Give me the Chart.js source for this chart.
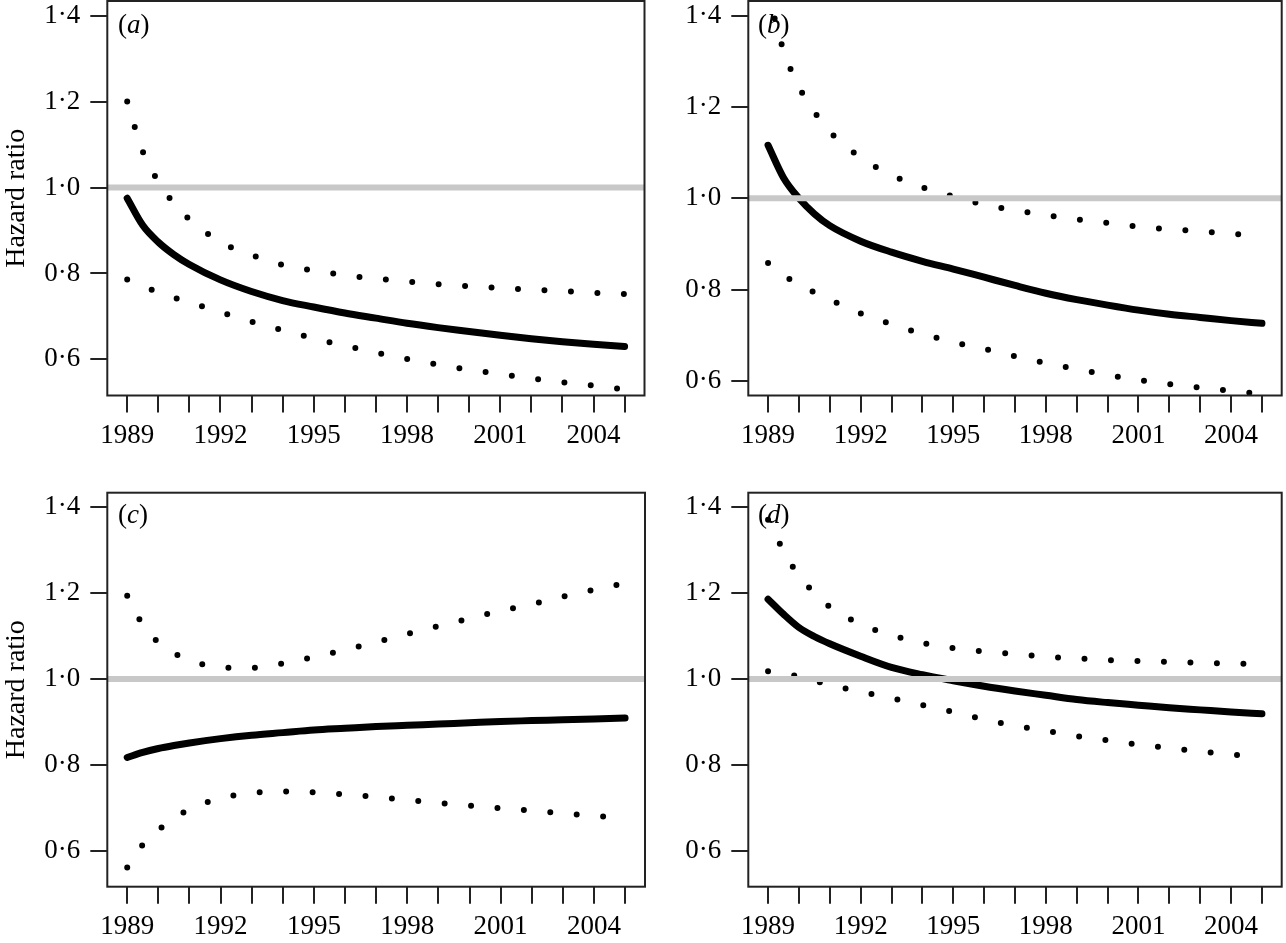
<!DOCTYPE html>
<html>
<head>
<meta charset="utf-8">
<script src="https://cdn.jsdelivr.net/npm/chart.js@4.4.0/dist/chart.umd.min.js"></script>
<style>
  body { margin: 0; background: #fff; }
  #wrap { position: relative; width: 1286px; height: 943px; background: #fff; overflow: hidden; }
  canvas { position: absolute; }
  .tag { position: absolute; font: 27px "Liberation Serif", serif; line-height: 1; color: #000; }
</style>
</head>
<body>
<div id="wrap">
  <canvas id="chartA" width="660" height="470" style="left:0px;top:0px"></canvas>
  <canvas id="chartB" width="626" height="470" style="left:660px;top:0px"></canvas>
  <canvas id="chartC" width="660" height="473" style="left:0px;top:470px"></canvas>
  <canvas id="chartD" width="626" height="473" style="left:660px;top:470px"></canvas>
  <div class="tag" style="left:118px;top:11px">(<i>a</i>)</div>
  <div class="tag" style="left:758px;top:11px">(<i>b</i>)</div>
  <div class="tag" style="left:118px;top:501px">(<i>c</i>)</div>
  <div class="tag" style="left:758px;top:501px">(<i>d</i>)</div>
</div>
<script>
// years the curves were read at (half years at the steep start)
const years = [1989, 1989.5, 1990, 1990.5, 1991, 1992, 1993, 1994, 1995, 1996,
  1997, 1998, 1999, 2000, 2001, 2002, 2003, 2004, 2005];
const tickYears = [1989, 1990, 1991, 1992, 1993, 1994, 1995, 1996, 1997, 1998,
  1999, 2000, 2001, 2002, 2003, 2004, 2005];
const labelYears = [1989, 1992, 1995, 1998, 2001, 2004];
const hrTicks = [0.6, 0.8, 1.0, 1.2, 1.4];
const refLevel = 1.0;

// (a)
const aEstimate = [0.975, 0.912, 0.873, 0.844, 0.821, 0.785, 0.758, 0.737, 0.722, 0.708,
  0.696, 0.684, 0.674, 0.665, 0.656, 0.648, 0.641, 0.635, 0.630];
const aUpper = [1.200, 1.084, 1.014, 0.963, 0.926, 0.873, 0.843, 0.820, 0.807, 0.796,
  0.788, 0.781, 0.775, 0.770, 0.766, 0.762, 0.759, 0.755, 0.752];
const aLower = [0.786, 0.771, 0.756, 0.744, 0.733, 0.710, 0.688, 0.668, 0.649, 0.632,
  0.616, 0.601, 0.588, 0.576, 0.566, 0.556, 0.547, 0.539, 0.530];

// (b)
const bEstimate = [1.116, 1.045, 1.000, 0.966, 0.940, 0.906, 0.882, 0.862, 0.845, 0.827,
  0.809, 0.792, 0.778, 0.766, 0.755, 0.746, 0.739, 0.732, 0.726];
const bUpper = [1.450, 1.324, 1.244, 1.189, 1.146, 1.089, 1.051, 1.024, 1.004, 0.986,
  0.974, 0.963, 0.954, 0.946, 0.938, 0.932, 0.928, 0.922, 0.918];
const bLower = [0.858, 0.832, 0.810, 0.794, 0.778, 0.748, 0.724, 0.703, 0.685, 0.670,
  0.654, 0.639, 0.626, 0.613, 0.602, 0.593, 0.585, 0.578, 0.571];

// (c)
const cEstimate = [0.817, 0.829, 0.838, 0.845, 0.851, 0.861, 0.869, 0.875, 0.881, 0.885,
  0.889, 0.892, 0.895, 0.898, 0.901, 0.903, 0.905, 0.907, 0.909];
const cUpper = [1.194, 1.126, 1.085, 1.060, 1.044, 1.027, 1.026, 1.036, 1.051, 1.068,
  1.086, 1.105, 1.123, 1.141, 1.159, 1.174, 1.192, 1.208, 1.223];
const cLower = [0.561, 0.614, 0.648, 0.675, 0.696, 0.722, 0.734, 0.738, 0.736, 0.731,
  0.725, 0.718, 0.711, 0.705, 0.699, 0.693, 0.687, 0.681, 0.676];

// (d)
const dEstimate = [1.186, 1.151, 1.120, 1.099, 1.082, 1.053, 1.027, 1.010, 0.996, 0.983,
  0.972, 0.962, 0.952, 0.945, 0.939, 0.933, 0.928, 0.923, 0.919];
const dUpper = [1.371, 1.299, 1.240, 1.201, 1.168, 1.128, 1.102, 1.084, 1.072, 1.064,
  1.058, 1.052, 1.048, 1.044, 1.042, 1.040, 1.038, 1.036, 1.034];
const dLower = [1.018, 1.012, 1.006, 0.996, 0.986, 0.970, 0.955, 0.939, 0.923, 0.906,
  0.891, 0.879, 0.867, 0.857, 0.847, 0.839, 0.831, 0.824, 0.818];

const xMin = 1988.36;
const xMax = 2005.64;
const serif = { family: "'Liberation Serif', 'Times New Roman', serif", size: 27 };

// frame round the plot region
const boxPlugin = {
  id: "box",
  afterDraw(chart) {
    const { ctx, chartArea } = chart;
    ctx.save();
    ctx.strokeStyle = "#222";
    ctx.lineWidth = 2;
    ctx.strokeRect(chartArea.left, chartArea.top,
      chartArea.right - chartArea.left, chartArea.bottom - chartArea.top);
    ctx.restore();
  },
};

function points(vals) {
  return years.map((yr, i) => ({ x: yr, y: vals[i] }));
}

function dotted(vals) {
  return {
    data: points(vals),
    borderColor: "#000",
    borderWidth: 6,
    borderCapStyle: "round",
    borderDash: [0, 26.5],
    cubicInterpolationMode: "monotone",
  };
}

function drawPanel(id, estimate, upper, lower, p) {
  const ctx = document.getElementById(id);
  return new Chart(ctx, {
    type: "line",
    data: {
      datasets: [
        // reference line is first so it is painted on top
        {
          data: [{ x: xMin, y: refLevel }, { x: xMax, y: refLevel }],
          borderColor: "#c8c8c8",
          borderWidth: 6,
          borderCapStyle: "butt",
        },
        {
          data: points(estimate),
          borderColor: "#000",
          borderWidth: 7,
          borderCapStyle: "round",
          cubicInterpolationMode: "monotone",
        },
        dotted(upper),
        dotted(lower),
      ],
    },
    options: {
      responsive: false,
      animation: false,
      events: [],
      layout: {
        autoPadding: false,
        padding: { left: 0, top: p.padTop, right: p.padRight, bottom: 0 },
      },
      elements: { point: { radius: 0 } },
      plugins: { legend: { display: false }, tooltip: { enabled: false } },
      scales: {
        x: {
          type: "linear",
          min: xMin,
          max: xMax,
          afterBuildTicks: (s) => {
            s.ticks = tickYears.map((v) => ({ value: v }));
          },
          afterFit: (s) => {
            s.height = p.xHeight;
            s.paddingLeft = 0;
            s.paddingRight = 0;
          },
          ticks: {
            autoSkip: false,
            maxRotation: 0,
            padding: 7,
            color: "#000",
            font: serif,
            callback: (v) => (labelYears.includes(v) ? String(v) : ""),
          },
          grid: { drawOnChartArea: false, tickLength: 17, color: "#222", lineWidth: 2 },
          border: { display: false },
        },
        y: {
          min: p.yMin,
          max: p.yMax,
          afterBuildTicks: (s) => {
            s.ticks = hrTicks.map((v) => ({ value: v }));
          },
          afterFit: (s) => {
            s.width = p.yWidth;
            s.paddingTop = 0;
            s.paddingBottom = 0;
          },
          ticks: {
            padding: 10,
            color: "#000",
            font: serif,
            callback: (v) => v.toFixed(1).replace(".", "\u00b7"),
          },
          grid: { drawOnChartArea: false, tickLength: 17, color: "#222", lineWidth: 2 },
          border: { display: false },
          title: {
            display: p.yTitle,
            text: "Hazard ratio",
            color: "#000",
            font: { family: serif.family, size: 28 },
            padding: 0,
          },
        },
      },
    },
    plugins: [boxPlugin],
  });
}

drawPanel("chartA", aEstimate, aUpper, aLower,
  { yMin: 0.516, yMax: 1.434, yTitle: true, yWidth: 107.3, padRight: 15.5, padTop: 1, xHeight: 74.5 });
drawPanel("chartB", bEstimate, bUpper, bLower,
  { yMin: 0.568, yMax: 1.432, yTitle: false, yWidth: 88.3, padRight: 4.3, padTop: 1, xHeight: 74.5 });
drawPanel("chartC", cEstimate, cUpper, cLower,
  { yMin: 0.516, yMax: 1.434, yTitle: true, yWidth: 107.3, padRight: 15, padTop: 22.7, xHeight: 56.3 });
drawPanel("chartD", dEstimate, dUpper, dLower,
  { yMin: 0.516, yMax: 1.434, yTitle: false, yWidth: 88.3, padRight: 4.3, padTop: 22.7, xHeight: 56.3 });
</script>
</body>
</html>
